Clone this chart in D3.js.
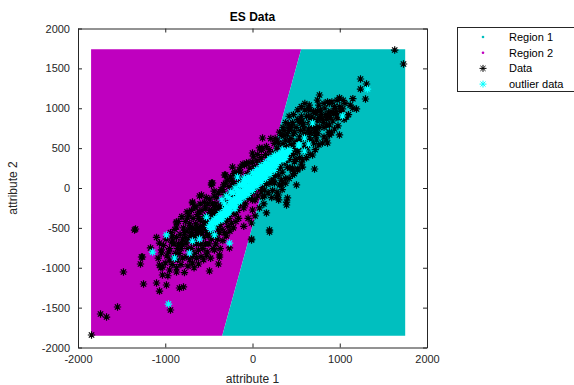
<!DOCTYPE html>
<html>
<head>
<meta charset="utf-8">
<script src="https://cdn.jsdelivr.net/npm/d3@7"></script>
<style>
  body { margin: 0; background: #fff; }
  svg { display: block; }
  text { font-family: "Liberation Sans", Arial, sans-serif; fill: #262626; }
</style>
</head>
<body>
<div id="chart"></div>
<script>
// region grid bounds and decision boundary (data units)
const regionX = [-1850, 1750];
const regionY = [-1852, 1740];
const boundary = [[-347, -1852], [558, 1740]];

const xTicks = [-2000, -1000, 0, 1000, 2000];
const yTicks = [-2000, -1500, -1000, -500, 0, 500, 1000, 1500, 2000];

// black "*" points
const dataPts = [
  [1630, 1730], [1731, 1555], [1238, 1367], [1307, 1304], [1238, 1241], [1295, 1116],
  [768, 1166], [745, 1103], [997, 1129], [1192, 991], [642, 991], [745, 966], [1032, 991],
  [963, 940], [883, 915], [768, 878], [539, 853], [573, 790], [424, 752], [848, 790],
  [997, 665], [883, 665], [734, 727], [653, 690], [115, 627], [883, 690], [711, 238],
  [390, -176], [401, -125], [298, -88], [195, -527], [-11, -439], [0, -276], [138, -25],
  [115, -113], [252, 63], [344, 75], [458, 226], [573, 263], [688, 414], [802, 564], [848, 602],
  [103, 476], [0, 326], [-92, 288], [-309, 163], [-458, 63], [-585, -88], [-183, 138],
  [275, 313], [229, 100], [424, 602], [-1352, -527], [-871, -439], [-745, -376], [-607, -100],
  [-688, -188], [-470, 38], [-321, 163], [-1261, -865], [-378, -840], [-1043, -815],
  [-1845, -1843], [-1742, -1580], [-1673, -1618], [-1547, -1492], [-940, -1530], [-1479, -1053],
  [-1249, -1204], [-1341, -514], [-1284, -953], [-1272, -865], [-1169, -752], [-1100, -1191],
  [-1066, -1292], [-986, -1216], [-837, -1254], [-791, -1241], [-1032, -1091], [-1066, -966],
  [-951, -1028], [-871, -1053], [-951, -903], [-619, -953], [-493, -1041], [-390, -953],
  [-378, -865], [-527, -840], [-688, -940], [-11, -640], [-264, -752], [-436, -777], [-871, -489],
  [-722, -502], [-607, -527], [-917, -652], [-802, -715], [-1043, -777], [-1032, -991],
  [287, 589], [80, 502], [0, 439], [-69, 313], [-229, 263], [-149, 226], [-470, 63], [-688, -176],
  [-665, -238], [-871, -426], [-1066, -690], [195, -552], [-11, -652], [390, -213], [883, 790],
  [905, 690], [734, 602], [619, 514], [573, 351], [458, 251], [332, 38], [504, 38], [275, -113],
  [160, -313],
  [-900, -700], [-880, -820], [-920, -600], [-860, -760],
  [-800, -640], [-780, -560], [-820, -760], [-760, -690], [-790, -500],
  [-700, -560], [-720, -450], [-680, -680], [-650, -600], [-700, -760], [-660, -520],
  [-600, -480], [-620, -380], [-580, -560], [-560, -430], [-640, -560], [-590, -700], [-610, -300],
  [-500, -330], [-520, -450], [-480, -520], [-460, -380], [-540, -250], [-510, -600], [-470, -280],
  [-400, -300], [-420, -200], [-380, -420], [-360, -250], [-440, -100], [-400, -520], [-350, -350], [-430, -380],
  [-300, -200], [-320, -80], [-280, -330], [-260, -150], [-340, -20], [-300, -420], [-250, -280], [-330, -300], [-310, 60],
  [-200, -100], [-220, 20], [-180, -220], [-160, -50], [-240, 100], [-200, -330], [-150, -150], [-230, -200], [-210, 180],
  [-100, 0], [-120, 120], [-80, -120], [-60, 60], [-140, 200], [-100, -250], [-50, -50], [-130, -100], [-110, 300],
  [0, 80], [-20, 200], [20, -50], [40, 150], [-40, 320], [0, -150], [50, 20], [-30, -60], [10, 400], [30, -350],
  [100, 180], [80, 300], [120, 60], [140, 240], [60, 420], [100, -50], [150, 130], [70, 0], [110, 500], [130, -200],
  [200, 280], [180, 400], [220, 160], [240, 340], [160, 520], [200, 60], [250, 230], [170, 120], [210, 620], [230, -30],
  [300, 380], [280, 500], [320, 260], [340, 440], [260, 620], [300, 160], [350, 330], [270, 220], [310, 700], [330, 100],
  [400, 480], [380, 600], [420, 360], [440, 540], [360, 720], [400, 260], [450, 430], [370, 320], [410, 800],
  [500, 580], [480, 700], [520, 460], [540, 640], [460, 820], [500, 360], [550, 530], [470, 420],
  [600, 680], [580, 800], [620, 560], [640, 740], [560, 900], [600, 460], [650, 630],
  [700, 780], [680, 900], [720, 660], [740, 840], [660, 980], [700, 560],
  [800, 860], [780, 980], [820, 760], [840, 920], [760, 1040],
  [900, 960], [880, 1060], [920, 840], [940, 1020],
  [1000, 1020], [980, 880], [1040, 1100], [1120, 1040],
  [-950, -760], [-980, -850], [-930, -680], [-870, -620], [-850, -700], [-830, -580], [-810, -690],
  [-770, -620], [-750, -540], [-740, -760], [-730, -640], [-710, -600], [-690, -500], [-670, -620],
  [-650, -450], [-640, -700], [-630, -500], [-620, -620], [-600, -400], [-590, -540], [-570, -480],
  [-560, -620], [-550, -360], [-540, -520], [-530, -400], [-520, -560], [-500, -450], [-490, -280],
  [-480, -400], [-470, -560], [-450, -320], [-440, -480], [-430, -250], [-420, -330], [-410, -450],
  [-390, -240], [-380, -340], [-370, -460], [-350, -180], [-340, -290], [-330, -400], [-320, -230],
  [-310, -140], [-290, -270], [-280, -100], [-270, -380], [-260, -200], [-250, -40], [-240, -310],
  [-230, -120], [-220, -240], [-210, -60], [-190, -180], [-180, 40], [-170, -280], [-160, 80],
  [-150, -30], [-140, -200], [-130, 40], [-120, -150], [-110, -60], [-90, 120], [-80, -200],
  [-70, -20], [-60, 180], [-50, -130], [-40, 30], [-30, 250], [-20, -100], [-10, 150], [10, -20],
  [20, 270], [30, -150], [40, 50], [50, 340], [60, -100], [70, 110], [80, -250], [90, 230],
  [100, 380], [110, 0], [130, 320], [140, -100], [150, 420], [160, 50], [170, 300], [180, -60],
  [190, 480], [200, 180], [210, 360], [220, -120], [230, 440], [240, 80], [250, 560], [260, 150],
  [270, 400], [280, -50], [290, 300], [300, 560], [310, 40], [320, 480], [330, 660], [340, 200],
  [350, 560], [360, 400], [370, 660], [380, 120], [390, 520], [400, 680], [410, 380], [420, 740],
  [430, 250], [440, 620], [450, 780], [460, 500], [470, 680], [480, 330], [490, 560], [500, 760],
  [510, 460], [520, 860], [530, 580], [540, 380], [550, 720], [560, 620], [570, 840], [580, 520],
  [590, 740], [610, 640], [620, 900], [630, 540], [650, 820], [660, 700], [670, 600], [680, 760],
  [690, 860], [710, 700], [720, 940], [730, 760], [750, 680], [760, 880], [770, 760], [790, 920],
  [810, 820], [830, 1000], [850, 860], [870, 940], [890, 880], [910, 1080], [930, 940], [950, 1000],
  [970, 1100], [1010, 960], [1060, 1060], [1150, 1120], [860, 1080],
  [-1100, -620], [-1080, -880], [-1050, -1000], [-1020, -720], [-1000, -940], [-990, -640], [-970, -1100],
  [-960, -800], [-940, -560], [-920, -960], [-900, -880], [-890, -520], [-870, -1000], [-860, -900],
  [-850, -420], [-840, -820], [-820, -960], [-810, -360], [-800, -880], [-780, -1060], [-770, -420],
  [-760, -860], [-750, -300], [-740, -980], [-730, -340], [-720, -900], [-700, -280], [-690, -860],
  [-680, -380], [-670, -1000], [-660, -820], [-650, -240], [-640, -880], [-630, -330], [-620, -780],
  [-600, -200], [-590, -860], [-580, -280], [-570, -760], [-560, -900], [-550, -180], [-540, -700],
  [-530, -120], [-520, -800], [-510, -200], [-500, -700], [-490, -140], [-480, -880], [-470, -640],
  [-460, -200], [-450, -760], [-440, -40], [-430, -600], [-420, -700], [-410, -120], [-400, -640],
  [-390, -60], [-380, -560], [-370, -760], [-360, -20], [-350, -520], [-340, -660], [-330, 40],
  [-320, -560], [-300, -600], [-290, 100], [-280, -480], [-270, 20], [-260, -540], [-250, 140],
  [-240, -440], [-230, 80], [-220, -500], [-200, 200], [-190, -420], [-170, 160], [-160, -380], [-140, 260],
  [848, 878], [963, 890], [1077, 890], [539, 828], [424, 727], [860, 564], [619, 476], [516, 226], [458, 163],
  [350, 760], [380, 820], [420, 900], [470, 920], [520, 980], [560, 1020], [600, 1060], [650, 1040],
  [600, 980], [640, 900], [700, 960], [820, 1060], [1150, 1000], [1100, 920],
  [1050, 860], [980, 780], [940, 740], [880, 700], [820, 640], [760, 540], [720, 480], [660, 420],
  [620, 380], [560, 300], [520, 240], [480, 180], [420, 120], [380, 60], [340, -20], [300, -150],
  [-50, -380], [-100, -480]
];

// cyan "*" outlier points
const outlierPts = [
  [1318, 1241], [1032, 903], [688, 815], [596, 627], [527, 539], [642, 552], [596, 464],
  [344, 476], [539, 539], [-172, 138], [-92, 125], [-986, -589], [-1146, -803], [-722, -815],
  [-688, -665], [-607, -640], [-264, -690], [-436, -589], [-527, -364], [-894, -878], [-963, -1455],
  [-500, -480], [-470, -430], [-440, -400], [-420, -440], [-390, -360], [-360, -330], [-340, -370],
  [-310, -290], [-290, -250], [-270, -300], [-250, -210], [-230, -180], [-210, -220], [-190, -140],
  [-170, -110], [-150, -150], [-130, -70], [-110, -40], [-90, -80], [-70, 0], [-50, 30], [-30, -10],
  [-10, 60], [10, 90], [30, 40], [50, 120], [70, 150], [90, 100], [110, 170], [130, 200], [150, 160],
  [170, 230], [190, 260], [210, 220], [230, 290], [250, 320], [270, 280], [290, 350], [320, 380],
  [350, 350], [380, 420], [410, 450], [60, 60], [-20, 90], [120, 120], [-200, -260],
  [-480, -520], [-460, -450], [-450, -500], [-420, -380], [-400, -420], [-380, -400], [-370, -320],
  [-350, -400], [-330, -330], [-320, -270], [-300, -340], [-280, -310], [-260, -260], [-250, -170],
  [-240, -240], [-220, -150], [-200, -200], [-180, -170], [-170, -60], [-160, -130], [-140, -40],
  [-120, -100], [-100, -20], [-90, 40], [-80, -60], [-60, 10], [-40, -30], [-40, 90], [-20, 20],
  [0, 10], [0, 130], [20, 60], [40, 120], [40, 180], [60, 100], [80, 130], [80, 230], [100, 200],
  [120, 160], [130, 260], [150, 220], [160, 300], [180, 240], [200, 280], [200, 360], [220, 320],
  [240, 300], [250, 380], [270, 340], [280, 400], [300, 330], [300, 420], [330, 440], [340, 380],
  [360, 440], [380, 380], [400, 470], [430, 480],
  [-350, -150], [-350, -340], [-300, -100], [-300, -300], [-250, -50], [-250, -260], [-200, 0],
  [-200, -220], [-150, 40], [-150, -170], [-100, 90], [-100, -120], [-50, 140], [-50, -80], [0, 190],
  [0, -30], [50, 230], [50, 20], [100, 280], [100, 70], [150, 320], [150, 120], [200, 370], [200, 170],
  [250, 410], [250, 220], [-320, -200], [-270, -120], [-220, -60], [-170, -20], [-120, 40], [-70, 80],
  [-20, 130], [30, 170], [80, 210], [130, 260], [180, 300], [-280, -240], [-230, -190], [-180, -140],
  [-130, -90], [-80, -40], [-30, 10], [20, 50], [70, 100], [120, 150], [170, 200], [220, 240]
];

const width = 574, height = 385;
const x = d3.scaleLinear().domain([-2000, 2000]).range([78, 427]);
const y = d3.scaleLinear().domain([-2000, 2000]).range([347.5, 28.5]);

const svg = d3.select('#chart').append('svg')
  .attr('width', width)
  .attr('height', height);

// regions
const line = d3.line().x(d => x(d[0])).y(d => y(d[1]));
const region2 = [[regionX[0], regionY[0]], boundary[0], boundary[1], [regionX[0], regionY[1]]];
const region1 = [boundary[0], [regionX[1], regionY[0]], [regionX[1], regionY[1]], boundary[1]];
svg.append('path').attr('d', line(region2) + 'Z').attr('fill', '#bf00bf');
svg.append('path').attr('d', line(region1) + 'Z').attr('fill', '#00bfbf');

// asterisk marker
function star(r) {
  const d = r * 0.72;
  return `M${-r},0H${r}M0,${-r}V${r}M${-d},${-d}L${d},${d}M${-d},${d}L${d},${-d}`;
}

svg.append('g').selectAll('path')
  .data(dataPts)
  .enter()
  .append('path')
    .attr('d', star(3.7))
    .attr('transform', d => `translate(${x(d[0])},${y(d[1])})`)
    .attr('stroke', '#000')
    .attr('stroke-width', 1.2)
    .attr('fill', 'none');

svg.append('g').selectAll('path')
  .data(outlierPts)
  .enter()
  .append('path')
    .attr('d', star(3.7))
    .attr('transform', d => `translate(${x(d[0])},${y(d[1])})`)
    .attr('stroke', '#00ffff')
    .attr('stroke-width', 1.2)
    .attr('fill', 'none');

// axes (box with inward ticks)
const fmt = d => String(d);
function styleAxis(g) {
  g.selectAll('.domain').attr('stroke', '#262626').attr('stroke-width', 1);
  g.selectAll('.tick line').attr('stroke', '#262626');
  g.selectAll('.tick text')
    .attr('fill', '#262626')
    .style('font-family', '"Liberation Sans", Arial, sans-serif')
    .style('font-size', '11px');
}

svg.append('g')
  .attr('transform', `translate(0,${y(-2000)})`)
  .call(d3.axisBottom(x).tickValues(xTicks).tickFormat(fmt).tickSizeInner(-4).tickSizeOuter(0).tickPadding(8))
  .call(styleAxis);
svg.append('g')
  .attr('transform', `translate(0,${y(2000)})`)
  .call(d3.axisTop(x).tickValues(xTicks).tickSizeInner(-4).tickSizeOuter(0).tickFormat(''))
  .call(styleAxis);
svg.append('g')
  .attr('transform', `translate(${x(-2000)},0)`)
  .call(d3.axisLeft(y).tickValues(yTicks).tickFormat(fmt).tickSizeInner(-4).tickSizeOuter(0).tickPadding(8))
  .call(styleAxis);
svg.append('g')
  .attr('transform', `translate(${x(2000)},0)`)
  .call(d3.axisRight(y).tickValues(yTicks).tickSizeInner(-4).tickSizeOuter(0).tickFormat(''))
  .call(styleAxis);

// title and labels
svg.append('text')
  .attr('x', (x(-2000) + x(2000)) / 2)
  .attr('y', 21)
  .attr('text-anchor', 'middle')
  .style('font-size', '12px')
  .style('font-weight', 'bold')
  .style('fill', '#000')
  .text('ES Data');

svg.append('text')
  .attr('x', (x(-2000) + x(2000)) / 2)
  .attr('y', 383)
  .attr('text-anchor', 'middle')
  .style('font-size', '12px')
  .text('attribute 1');

svg.append('text')
  .attr('transform', `translate(17,${(y(-2000) + y(2000)) / 2}) rotate(-90)`)
  .attr('text-anchor', 'middle')
  .style('font-size', '12px')
  .text('attribute 2');

// legend
const legendItems = [
  { label: 'Region 1', type: 'dot', color: '#00bfbf' },
  { label: 'Region 2', type: 'dot', color: '#bf00bf' },
  { label: 'Data', type: 'star', color: '#000' },
  { label: 'outlier data', type: 'star', color: '#00ffff' }
];

const legend = svg.append('g');
legend.append('rect')
  .attr('x', 457.5).attr('y', 27.5)
  .attr('width', 125).attr('height', 64)
  .attr('fill', '#fff')
  .attr('stroke', '#262626')
  .attr('stroke-width', 1);

legendItems.forEach((d, i) => {
  const cy = 37 + i * 15.7;
  if (d.type === 'dot') {
    legend.append('circle').attr('cx', 483).attr('cy', cy).attr('r', 1.3).attr('fill', d.color);
  } else {
    legend.append('path')
      .attr('d', star(3.5))
      .attr('transform', `translate(483,${cy})`)
      .attr('stroke', d.color)
      .attr('stroke-width', 1)
      .attr('fill', 'none');
  }
  legend.append('text')
    .attr('x', 509)
    .attr('y', cy + 4)
    .style('font-size', '11px')
    .style('fill', '#000')
    .text(d.label);
});
</script>
</body>
</html>
